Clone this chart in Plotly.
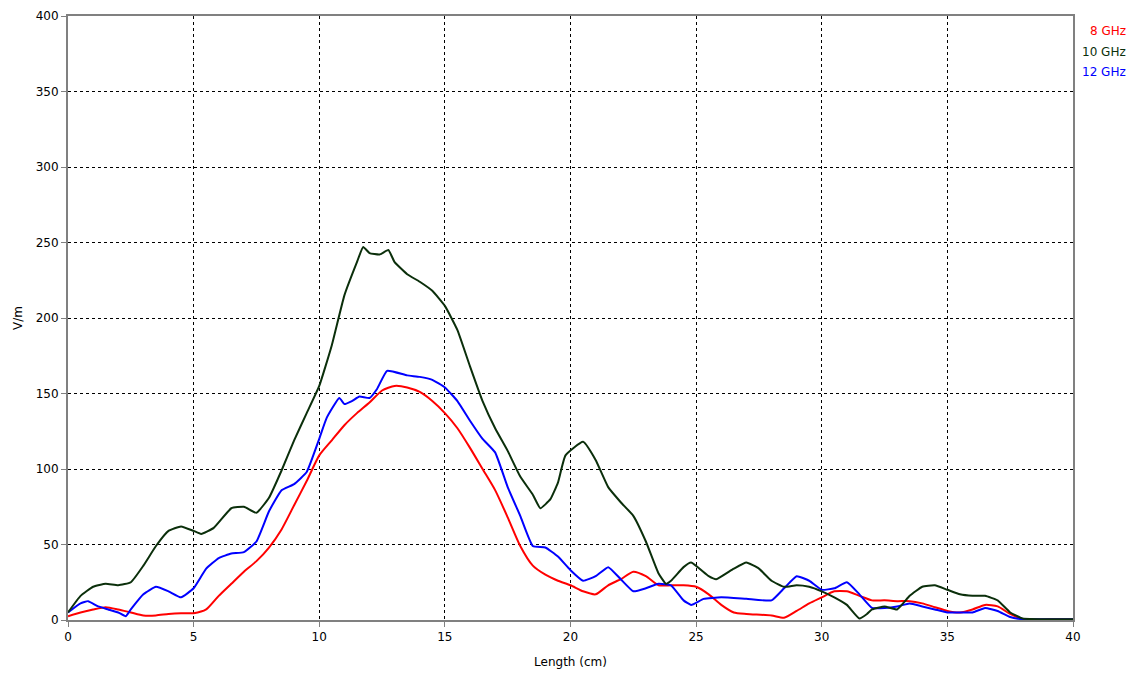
import plotly.graph_objects as go

x_g = [0, 0.5, 1, 1.5, 2, 2.5, 3, 3.5, 4, 4.5, 5, 5.3, 5.8, 6.5, 7, 7.5, 8, 8.5, 9, 9.5, 10, 10.5, 11, 11.5, 11.75, 12, 12.4, 12.75, 13, 13.5, 14, 14.5, 15, 15.5, 16, 16.5, 17, 17.5, 18, 18.5, 18.8, 19.2, 19.5, 19.8, 20.5, 21, 21.5, 22, 22.5, 23, 23.5, 23.8, 24, 24.5, 24.8, 25.5, 25.8, 26.5, 27, 27.5, 28, 28.5, 29, 29.5, 30, 30.5, 31, 31.5, 31.8, 32, 32.5, 33, 33.5, 34, 34.5, 35, 35.5, 36, 36.5, 37, 37.5, 38, 39, 40]
v_g = [5, 16, 22, 24, 23, 25, 36, 49, 59, 62, 59, 57, 61, 74, 75, 71, 81, 99, 119, 137, 155, 182, 215, 237, 247, 243, 242, 245, 237, 229, 224, 218, 208, 192, 168, 145, 127, 112, 95, 83, 74, 80, 91, 109, 118, 106, 88, 78, 69, 52, 31, 24, 26, 35, 38, 29, 27, 34, 38, 34, 26, 22, 23, 22, 19, 15, 10, 1, 4, 7, 9, 7, 16, 22, 23, 20, 17, 16, 16, 13, 5, 1, 0.5, 0.5]

x_b = [0, 0.5, 0.8, 1.2, 1.6, 2, 2.3, 2.5, 3, 3.5, 4, 4.5, 5, 5.5, 6, 6.5, 7, 7.5, 8, 8.5, 9, 9.5, 10, 10.3, 10.8, 11, 11.3, 11.6, 12, 12.3, 12.7, 13.5, 14, 14.5, 15, 15.5, 16, 16.5, 17, 17.5, 18, 18.5, 19, 19.5, 20, 20.5, 21, 21.5, 22, 22.5, 23, 23.5, 24, 24.5, 24.8, 25.3, 26, 27, 28, 28.5, 29, 29.5, 30, 30.5, 31, 31.5, 32, 32.5, 33, 33.5, 34, 34.5, 35, 35.5, 36, 36.5, 37, 37.5, 38, 39, 40]
v_b = [5, 11, 12.5, 9, 7, 5, 2.5, 7, 17, 22, 19, 15, 21, 34, 41, 44, 45, 52, 72, 86, 90, 98, 120, 134, 147, 143, 145, 148, 147, 153, 165, 162, 161, 159, 154, 145, 132, 120, 111, 88, 69, 49, 48, 42, 33, 26, 29, 35, 27, 19, 21, 24, 23, 13, 10, 14, 15, 14, 13, 21, 29, 26, 20, 21, 25, 17, 8, 8, 9, 11, 9, 7, 5, 5, 5, 8, 6, 2, 0.5, 0.5, 0.5]

x_r = [0, 0.5, 1, 1.5, 2, 2.5, 3, 3.5, 4, 4.5, 5, 5.5, 6, 6.5, 7, 7.5, 8, 8.5, 9, 9.5, 10, 10.5, 11, 11.5, 12, 12.5, 13, 13.5, 14, 14.5, 15, 15.5, 16, 16.5, 17, 17.5, 18, 18.5, 19, 19.5, 20, 20.5, 21, 21.5, 22, 22.5, 23, 23.5, 24, 24.5, 25, 25.5, 26, 26.5, 27, 28, 28.5, 29, 29.5, 30, 30.5, 31, 31.5, 32, 32.5, 33, 33.5, 34, 34.5, 35, 35.5, 36, 36.5, 37, 37.5, 38, 39, 40]
v_r = [2.5, 5, 7, 8.5, 7, 5, 3, 3, 4, 4.5, 4.5, 7, 16, 24, 32, 39, 48, 60, 76, 92, 109, 119, 129, 137, 144, 152, 155, 154, 151, 145, 137, 127, 114, 100, 86, 68, 49, 36, 30, 26, 23, 19, 17, 23, 27, 32, 29, 23, 23, 23, 22, 17, 10, 5, 4, 3, 1.5, 6, 11, 15, 19, 19, 16, 13, 13, 12.5, 12.5, 11, 8.5, 6, 5, 7, 10, 9, 4, 0.5, 0.5, 0.5]

series_names = ["8 GHz", "10 GHz", "12 GHz"]
series_colors = ["#ff0000", "#0b2f0b", "#0000ff"]

fig = go.Figure()
fig.add_trace(go.Scatter(x=x_r, y=v_r, mode="lines", name=series_names[0],
                         line=dict(color=series_colors[0], width=2, shape="spline", smoothing=0.6)))
fig.add_trace(go.Scatter(x=x_b, y=v_b, mode="lines", name=series_names[2],
                         line=dict(color=series_colors[2], width=2, shape="spline", smoothing=0.4)))
fig.add_trace(go.Scatter(x=x_g, y=v_g, mode="lines", name=series_names[1],
                         line=dict(color=series_colors[1], width=2, shape="spline", smoothing=0.4)))

font = "DejaVu Sans"
for i, (n, c) in enumerate(zip(series_names, series_colors)):
    fig.add_annotation(xref="paper", yref="paper", x=1.0545, y=1 - i * 0.034 - 0.010,
                       text=n, showarrow=False, xanchor="right", yanchor="top",
                       font=dict(family=font, size=12, color=c))

fig.update_layout(
    width=1135, height=673,
    margin=dict(l=60, r=70, t=8, b=61),
    paper_bgcolor="white", plot_bgcolor="white",
    showlegend=False,
    font=dict(family=font, size=12, color="black"),
)
fig.update_xaxes(range=[0, 40], dtick=5, tick0=0, showgrid=True, gridcolor="black",
                 griddash="dot", gridwidth=1, showline=True, linecolor="#808080", linewidth=2,
                 mirror=True, ticks="outside", ticklen=5, tickcolor="#808080", zeroline=False,
                 automargin=False,
                 title=dict(text="Length (cm)", font=dict(size=12), standoff=14))
fig.update_yaxes(range=[0, 400], dtick=50, tick0=0, showgrid=True, gridcolor="black",
                 griddash="dot", gridwidth=1, showline=True, linecolor="#808080", linewidth=2,
                 mirror=True, ticks="outside", ticklen=5, tickcolor="#808080", zeroline=False,
                 automargin=False,
                 title=dict(text="V/m", font=dict(size=12), standoff=10))

fig.write_html("out.html")
